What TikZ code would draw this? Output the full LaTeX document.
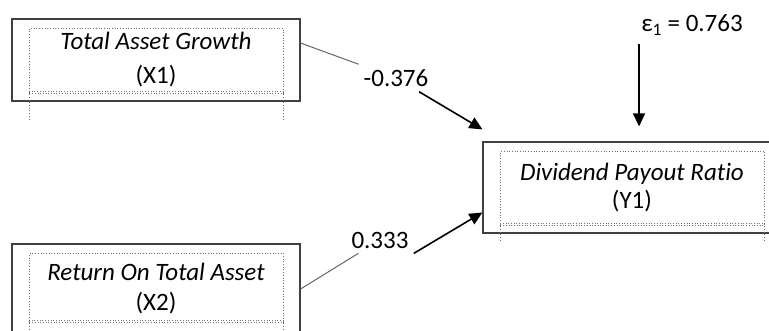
\documentclass[tikz,border=0pt]{standalone}
\usepackage{fontspec}
\setmainfont{Carlito}[Ligatures={NoCommon}]
\usetikzlibrary{positioning,calc,arrows.meta}

\tikzset{
  var/.style={draw=black!75, line width=1.2pt, inner sep=0pt, align=center,
    font=\fontsize{25}{30}\selectfont},
  coef/.style={inner sep=5pt, font=\fontsize{25}{30}\selectfont},
  link/.style={draw=black!60, line width=1pt},
  effect/.style={line width=1.6pt, -{Triangle[length=13pt,width=12pt]}},
  cell/.style={draw=black!55, line width=0.7pt, dotted}
}

% dotted table cell inside a box: #1 node, #2 bottom inset, #3 drop of side rules
\newcommand{\cellgrid}[3]{%
  \draw[cell] ([xshift=18pt,yshift=#2]#1.south west) rectangle ([xshift=-17pt,yshift=-10pt]#1.north east);
  \draw[cell] ([xshift=18pt,yshift=#2-2pt]#1.south west) -- ([xshift=-17pt,yshift=#2-2pt]#1.south east);
  \draw[cell] ([xshift=18pt,yshift=#2]#1.south west) -- ([xshift=18pt,yshift=-#3]#1.south west);
  \draw[cell] ([xshift=-17pt,yshift=#2]#1.south east) -- ([xshift=-17pt,yshift=-#3]#1.south east);
}

\begin{document}
\begin{tikzpicture}[x=1pt,y=-1pt]
  \useasboundingbox (0,0) rectangle (769,331);
  \clip (0,0) rectangle (769,331);

  % variables
  \node[var, minimum width=288pt, minimum height=82pt] (x1) at (156,60) {\textit{Total Asset Growth}\\[4pt](X1)};
  \node[var, minimum width=288pt, minimum height=90pt] (x2) at (156,289) {\textit{Return On Total Asset}\\(X2)};
  \node[var, minimum width=298pt, minimum height=91pt] (y1) at (632,187.5) {\textit{Dividend Payout Ratio}\\[-2pt](Y1)};
  \cellgrid{x1}{10pt}{19pt}
  \cellgrid{x2}{14pt}{20pt}
  \cellgrid{y1}{10pt}{7pt}

  % path coefficients
  \node[coef] (w1) at (396,78) {-0.376};
  \node[coef] (w2) at (380,240) {0.333};
  \node[coef, inner sep=2pt] (eps) at (692,25) {ε\textsubscript{1} = 0.763};

  % paths
  \draw[link] ([yshift=17pt]x1.east) -- (w1);
  \draw[effect] (w1) -- ([yshift=12pt]y1.north west);
  \draw[link] (x2.east) -- (w2);
  \draw[effect] (w2.south east) -- ([yshift=-25pt]y1.west);
  \draw[effect, shorten <=6pt, shorten >=15pt] (eps.south west) -- (eps.south west |- y1.north);
\end{tikzpicture}
\end{document}
